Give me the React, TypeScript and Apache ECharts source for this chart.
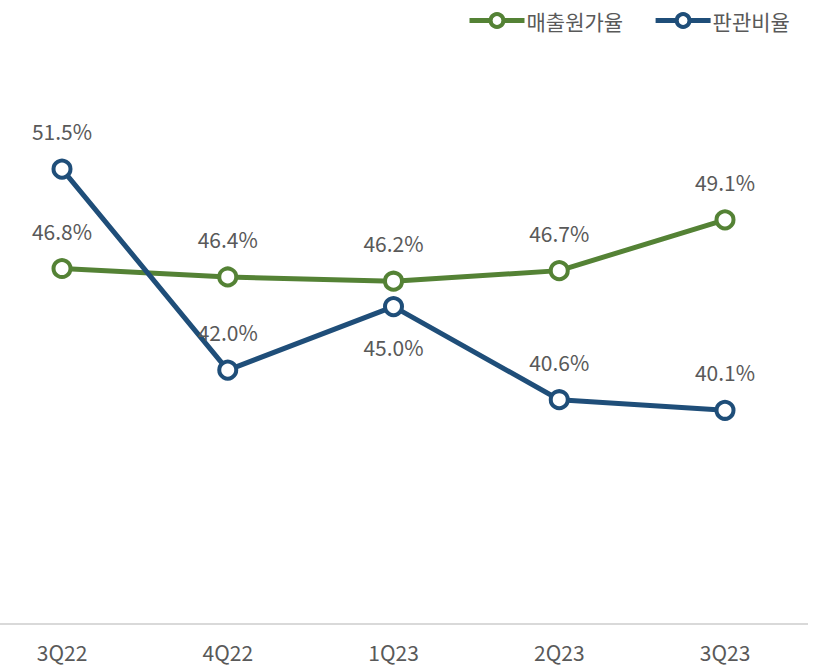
import React, { useEffect, useRef } from "react";
import * as echarts from "echarts";

const categories = ["3Q22", "4Q22", "1Q23", "2Q23", "3Q23"];
const costRatio = [46.8, 46.4, 46.2, 46.7, 49.1];
const sgaRatio = [51.5, 42.0, 45.0, 40.6, 40.1];
const sgaLabelBelow = [false, false, true, false, false];

const GREEN = "#548235";
const BLUE = "#1F4E79";
const TEXT = "#595959";
const FONT = "'Noto Sans CJK KR', 'Noto Sans', sans-serif";

export default function App() {
  const ref = useRef<HTMLDivElement>(null);
  useEffect(() => {
    document.body.style.margin = "0";
    if (!ref.current) return;
    const chart = echarts.init(ref.current, null, { renderer: "svg" });
    const labelBase = {
      show: true,
      position: "top" as const,
      distance: 17,
      fontSize: 21,
      color: TEXT,
      fontFamily: FONT,
      formatter: (p: any) => `${Number(p.value).toFixed(1)}%`,
    };
    chart.setOption({
      animation: false,
      textStyle: { fontFamily: FONT },
      legend: {
        top: 5,
        left: 462,
        itemWidth: 55,
        itemHeight: 16,
        itemGap: 30,
        lineStyle: { width: 5 },
        itemStyle: { borderWidth: 4 },
        textStyle: { fontSize: 21, color: TEXT, fontFamily: FONT, padding: [0, 0, 0, -3] },
        data: ["매출원가율", "판관비율"],
      },
      grid: { left: 62, right: 93, top: 95, bottom: 42, containLabel: false },
      xAxis: {
        type: "category",
        data: categories,
        boundaryGap: false,
        axisLine: { show: false },
        axisTick: { show: false },
        axisLabel: { fontSize: 21, color: TEXT, fontFamily: FONT, margin: 17 },
      },
      yAxis: {
        type: "value",
        min: 30,
        max: 55,
        show: false,
        splitLine: { show: false },
      },
      graphic: [
        {
          type: "line",
          shape: { x1: 0, y1: 624, x2: 808, y2: 624 },
          style: { stroke: "#D9D9D9", lineWidth: 2 },
          silent: true,
        },
      ],
      series: [
        {
          name: "매출원가율",
          type: "line",
          data: costRatio,
          symbol: "circle",
          symbolSize: 17,
          lineStyle: { color: GREEN, width: 5 },
          itemStyle: { color: "#fff", borderColor: GREEN, borderWidth: 4 },
          label: labelBase,
          z: 2,
        },
        {
          name: "판관비율",
          type: "line",
          data: sgaRatio.map((v, i) => ({
            value: v,
            label: sgaLabelBelow[i] ? { position: "bottom", distance: 19 } : undefined,
          })),
          symbol: "circle",
          symbolSize: 17,
          lineStyle: { color: BLUE, width: 5 },
          itemStyle: { color: "#fff", borderColor: BLUE, borderWidth: 4 },
          label: labelBase,
          z: 3,
        },
      ],
    });
    return () => chart.dispose();
  }, []);
  return <div ref={ref} style={{ width: 818, height: 666 }} />;
}
